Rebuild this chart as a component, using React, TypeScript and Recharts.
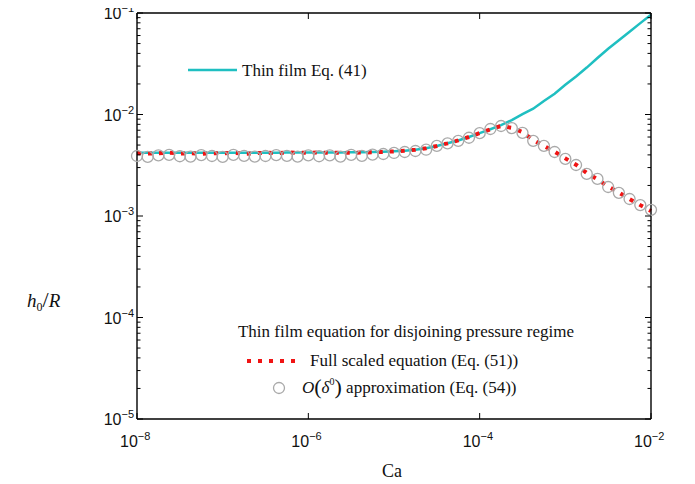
import { ComposedChart, Line, XAxis, YAxis } from 'recharts';

// Ca grid (8 samples per decade, 1e-8 .. 1e-2)
const ca = [
  1e-8, 1.334e-8, 1.778e-8, 2.371e-8, 3.162e-8, 4.217e-8, 5.623e-8, 7.499e-8,
  1e-7, 1.334e-7, 1.778e-7, 2.371e-7, 3.162e-7, 4.217e-7, 5.623e-7, 7.499e-7,
  1e-6, 1.334e-6, 1.778e-6, 2.371e-6, 3.162e-6, 4.217e-6, 5.623e-6, 7.499e-6,
  1e-5, 1.334e-5, 1.778e-5, 2.371e-5, 3.162e-5, 4.217e-5, 5.623e-5, 7.499e-5,
  1e-4, 1.334e-4, 1.778e-4, 2.371e-4, 3.162e-4, 4.217e-4, 5.623e-4, 7.499e-4,
  1e-3, 1.334e-3, 1.778e-3, 2.371e-3, 3.162e-3, 4.217e-3, 5.623e-3, 7.499e-3,
  1e-2,
];

// thin film Eq. (41)
const thinFilm = [
  4.2e-3, 4.2e-3, 4.2e-3, 4.2e-3, 4.2e-3, 4.2e-3, 4.2e-3, 4.2e-3,
  4.2e-3, 4.2e-3, 4.2e-3, 4.2e-3, 4.2e-3, 4.2e-3, 4.22e-3, 4.22e-3,
  4.22e-3, 4.22e-3, 4.22e-3, 4.23e-3, 4.24e-3, 4.25e-3, 4.27e-3, 4.3e-3,
  4.35e-3, 4.4e-3, 4.5e-3, 4.65e-3, 4.9e-3, 5.2e-3, 5.55e-3, 6.0e-3,
  6.55e-3, 7.15e-3, 7.85e-3, 8.8e-3, 1.01e-2, 1.14e-2, 1.36e-2, 1.6e-2,
  1.96e-2, 2.37e-2, 2.9e-2, 3.6e-2, 4.45e-2, 5.4e-2, 6.55e-2, 7.95e-2,
  9.6e-2,
];

// full scaled equation (Eq. (51))
const fullScaled = [
  4.18e-3, 4.12e-3, 4.15e-3, 4.2e-3, 4.12e-3, 4.16e-3, 4.1e-3, 4.15e-3,
  4.14e-3, 4.2e-3, 4.1e-3, 4.15e-3, 4.2e-3, 4.16e-3, 4.22e-3, 4.2e-3,
  4.2e-3, 4.22e-3, 4.18e-3, 4.2e-3, 4.2e-3, 4.22e-3, 4.24e-3, 4.28e-3,
  4.33e-3, 4.4e-3, 4.5e-3, 4.65e-3, 4.9e-3, 5.2e-3, 5.55e-3, 6.0e-3,
  6.55e-3, 7.15e-3, 7.7e-3, 7.4e-3, 6.7e-3, 5.6e-3, 4.9e-3, 4.3e-3,
  3.7e-3, 3.2e-3, 2.65e-3, 2.3e-3, 1.95e-3, 1.7e-3, 1.47e-3, 1.28e-3,
  1.12e-3,
];

// O(delta^0) approximation (Eq. (54))
const approx = [
  3.9e-3, 3.82e-3, 3.95e-3, 4.0e-3, 3.88e-3, 3.85e-3, 3.98e-3, 3.9e-3,
  3.82e-3, 4.0e-3, 3.92e-3, 3.85e-3, 3.9e-3, 3.98e-3, 3.92e-3, 3.85e-3,
  3.95e-3, 3.88e-3, 3.95e-3, 3.85e-3, 4.0e-3, 3.92e-3, 4.02e-3, 4.08e-3,
  4.18e-3, 4.27e-3, 4.37e-3, 4.5e-3, 4.9e-3, 5.2e-3, 5.5e-3, 5.9e-3,
  6.55e-3, 7.2e-3, 7.7e-3, 7.35e-3, 6.6e-3, 5.5e-3, 4.9e-3, 4.27e-3,
  3.65e-3, 3.18e-3, 2.6e-3, 2.32e-3, 1.93e-3, 1.69e-3, 1.47e-3, 1.28e-3,
  1.15e-3,
];

const xTicks = [1e-8, 1e-6, 1e-4, 1e-2];
const xTickLabels = ['−8', '−6', '−4', '−2'];
const yDecades = [1e-5, 1e-4, 1e-3, 1e-2, 1e-1];
const yTickLabels = ['−5', '−4', '−3', '−2', '−1'];
const minorMult = [2, 3, 4, 5, 6, 7, 8, 9];

const yTicks: number[] = [];
yDecades.forEach((d, i) => {
  yTicks.push(d);
  if (i < yDecades.length - 1) minorMult.forEach((m) => yTicks.push(+(m * d).toPrecision(3)));
});

const rows = ca.map((c, i) => ({
  ca: c,
  thin: thinFilm[i],
  full: fullScaled[i],
  approx: approx[i],
}));

// the wrapper is pulled back over the body margin so chart px == page px
const W = 695;
const H = 484;
const tickFont = '"Liberation Sans", Arial, sans-serif';
const serif = '"Liberation Serif", "Times New Roman", serif';
const red = '#f01414';
const cyan = '#1fbfc1';
const grey = '#a9a9a9';

function isMajorY(v: number) {
  return yDecades.some((d) => Math.abs(v - d) / d < 1e-6);
}

function LeftTick(props: any) {
  const { x, y, payload } = props;
  const v = payload.value;
  const major = isMajorY(v);
  const idx = yDecades.findIndex((d) => Math.abs(v - d) / d < 1e-6);
  return (
    <g>
      <line x1={x} y1={y} x2={x + (major ? 6 : 3.5)} y2={y} stroke="#000" strokeWidth={1} />
      {major && (
        <text x={x - 3} y={y + 6} textAnchor="end" fontFamily={tickFont} fontSize={16} fill="#111">
          10
          <tspan dy={-7} fontSize={11}>{yTickLabels[idx]}</tspan>
        </text>
      )}
    </g>
  );
}

function RightTick(props: any) {
  const { x, y, payload } = props;
  const major = isMajorY(payload.value);
  return <line x1={x} y1={y} x2={x - (major ? 6 : 3.5)} y2={y} stroke="#000" strokeWidth={1} />;
}

function BottomTick(props: any) {
  const { x, y, payload } = props;
  const idx = xTicks.findIndex((d) => Math.abs(payload.value - d) / d < 1e-6);
  return (
    <g>
      <line x1={x} y1={y} x2={x} y2={y - 6} stroke="#000" strokeWidth={1} />
      <text x={x - 17} y={y + 28} textAnchor="start" fontFamily={tickFont} fontSize={16} fill="#111">
        10
        <tspan dy={-7} fontSize={11}>{xTickLabels[idx]}</tspan>
      </text>
    </g>
  );
}

function TopTick(props: any) {
  const { x, y } = props;
  return <line x1={x} y1={y} x2={x} y2={y + 6} stroke="#000" strokeWidth={1} />;
}

export default function App() {
  return (
    <div style={{ position: 'relative', width: W, height: H, margin: '-8px 0 0 -8px' }}>
      <ComposedChart
        width={W}
        height={H}
        data={rows}
        margin={{ top: 12, right: 43, bottom: 64, left: 136 }}
      >
        <XAxis
          xAxisId="b"
          dataKey="ca"
          type="number"
          scale="log"
          domain={[1e-8, 1e-2]}
          ticks={xTicks}
          interval={0}
          height={1}
          tickSize={0}
          tickMargin={0}
          tickLine={false}
          axisLine={{ stroke: '#000', strokeWidth: 1.4 }}
          tick={(p: any) => <BottomTick {...p} />}
        />
        <XAxis
          xAxisId="t"
          orientation="top"
          dataKey="ca"
          type="number"
          scale="log"
          domain={[1e-8, 1e-2]}
          ticks={xTicks}
          interval={0}
          height={1}
          tickSize={0}
          tickMargin={0}
          tickLine={false}
          axisLine={{ stroke: '#000', strokeWidth: 1.4 }}
          tick={(p: any) => <TopTick {...p} />}
        />
        <YAxis
          yAxisId="l"
          type="number"
          scale="log"
          domain={[1e-5, 1e-1]}
          ticks={yTicks}
          interval={0}
          width={1}
          tickSize={0}
          tickMargin={0}
          tickLine={false}
          allowDataOverflow
          axisLine={{ stroke: '#000', strokeWidth: 1.4 }}
          tick={(p: any) => <LeftTick {...p} />}
        />
        <YAxis
          yAxisId="r"
          orientation="right"
          type="number"
          scale="log"
          domain={[1e-5, 1e-1]}
          ticks={yTicks}
          interval={0}
          width={1}
          tickSize={0}
          tickMargin={0}
          tickLine={false}
          allowDataOverflow
          axisLine={{ stroke: '#000', strokeWidth: 1.4 }}
          tick={(p: any) => <RightTick {...p} />}
        />
        <Line
          xAxisId="b"
          yAxisId="l"
          dataKey="thin"
          type="linear"
          stroke={cyan}
          strokeWidth={2.5}
          dot={false}
          isAnimationActive={false}
        />
        <Line
          xAxisId="b"
          yAxisId="l"
          dataKey="approx"
          type="linear"
          stroke="none"
          dot={{ r: 5.5, stroke: grey, strokeWidth: 1.3, fill: 'none' }}
          isAnimationActive={false}
        />
        <Line
          xAxisId="b"
          yAxisId="l"
          dataKey="full"
          type="linear"
          stroke={red}
          strokeWidth={4}
          strokeDasharray="4 7"
          dot={false}
          isAnimationActive={false}
        />
      </ComposedChart>
      <svg
        width={W}
        height={H}
        style={{ position: 'absolute', left: 0, top: 0, pointerEvents: 'none' }}
      >
        <line x1={188} y1={70} x2={237} y2={70} stroke={cyan} strokeWidth={2.5} />
        <text x={242} y={76} fontFamily={serif} fontSize={17} fill="#111">
          Thin film Eq. (41)
        </text>

        <text x={406} y={337} textAnchor="middle" fontFamily={serif} fontSize={17} fill="#111">
          Thin film equation for disjoining pressure regime
        </text>
        <line x1={247} y1={361} x2={298} y2={361} stroke={red} strokeWidth={4} strokeDasharray="4 7" />
        <text x={310} y={366} fontFamily={serif} fontSize={17} fill="#111">
          Full scaled equation (Eq. (51))
        </text>
        <circle cx={279} cy={388} r={5.5} stroke={grey} strokeWidth={1.3} fill="none" />
        <text x={302} y={393} fontFamily={serif} fontSize={17} fill="#111">
          <tspan fontStyle="italic">O</tspan>
          <tspan fontSize={22} dy={1}>(</tspan>
          <tspan fontStyle="italic" dy={-1}>δ</tspan>
          <tspan fontSize={10} dy={-8}>0</tspan>
          <tspan fontSize={22} dy={9}>)</tspan>
          <tspan dy={-1}> approximation (Eq. (54))</tspan>
        </text>

        <text x={27} y={307} fontFamily={serif} fontSize={19} fill="#111">
          <tspan fontStyle="italic">h</tspan>
          <tspan fontSize={12} dy={4}>0</tspan>
          <tspan dy={-4} fontSize={22}>/</tspan>
          <tspan fontStyle="italic">R</tspan>
        </text>
        <text x={392} y={477} textAnchor="middle" fontFamily={serif} fontSize={18} fill="#111">
          Ca
        </text>
      </svg>
    </div>
  );
}
